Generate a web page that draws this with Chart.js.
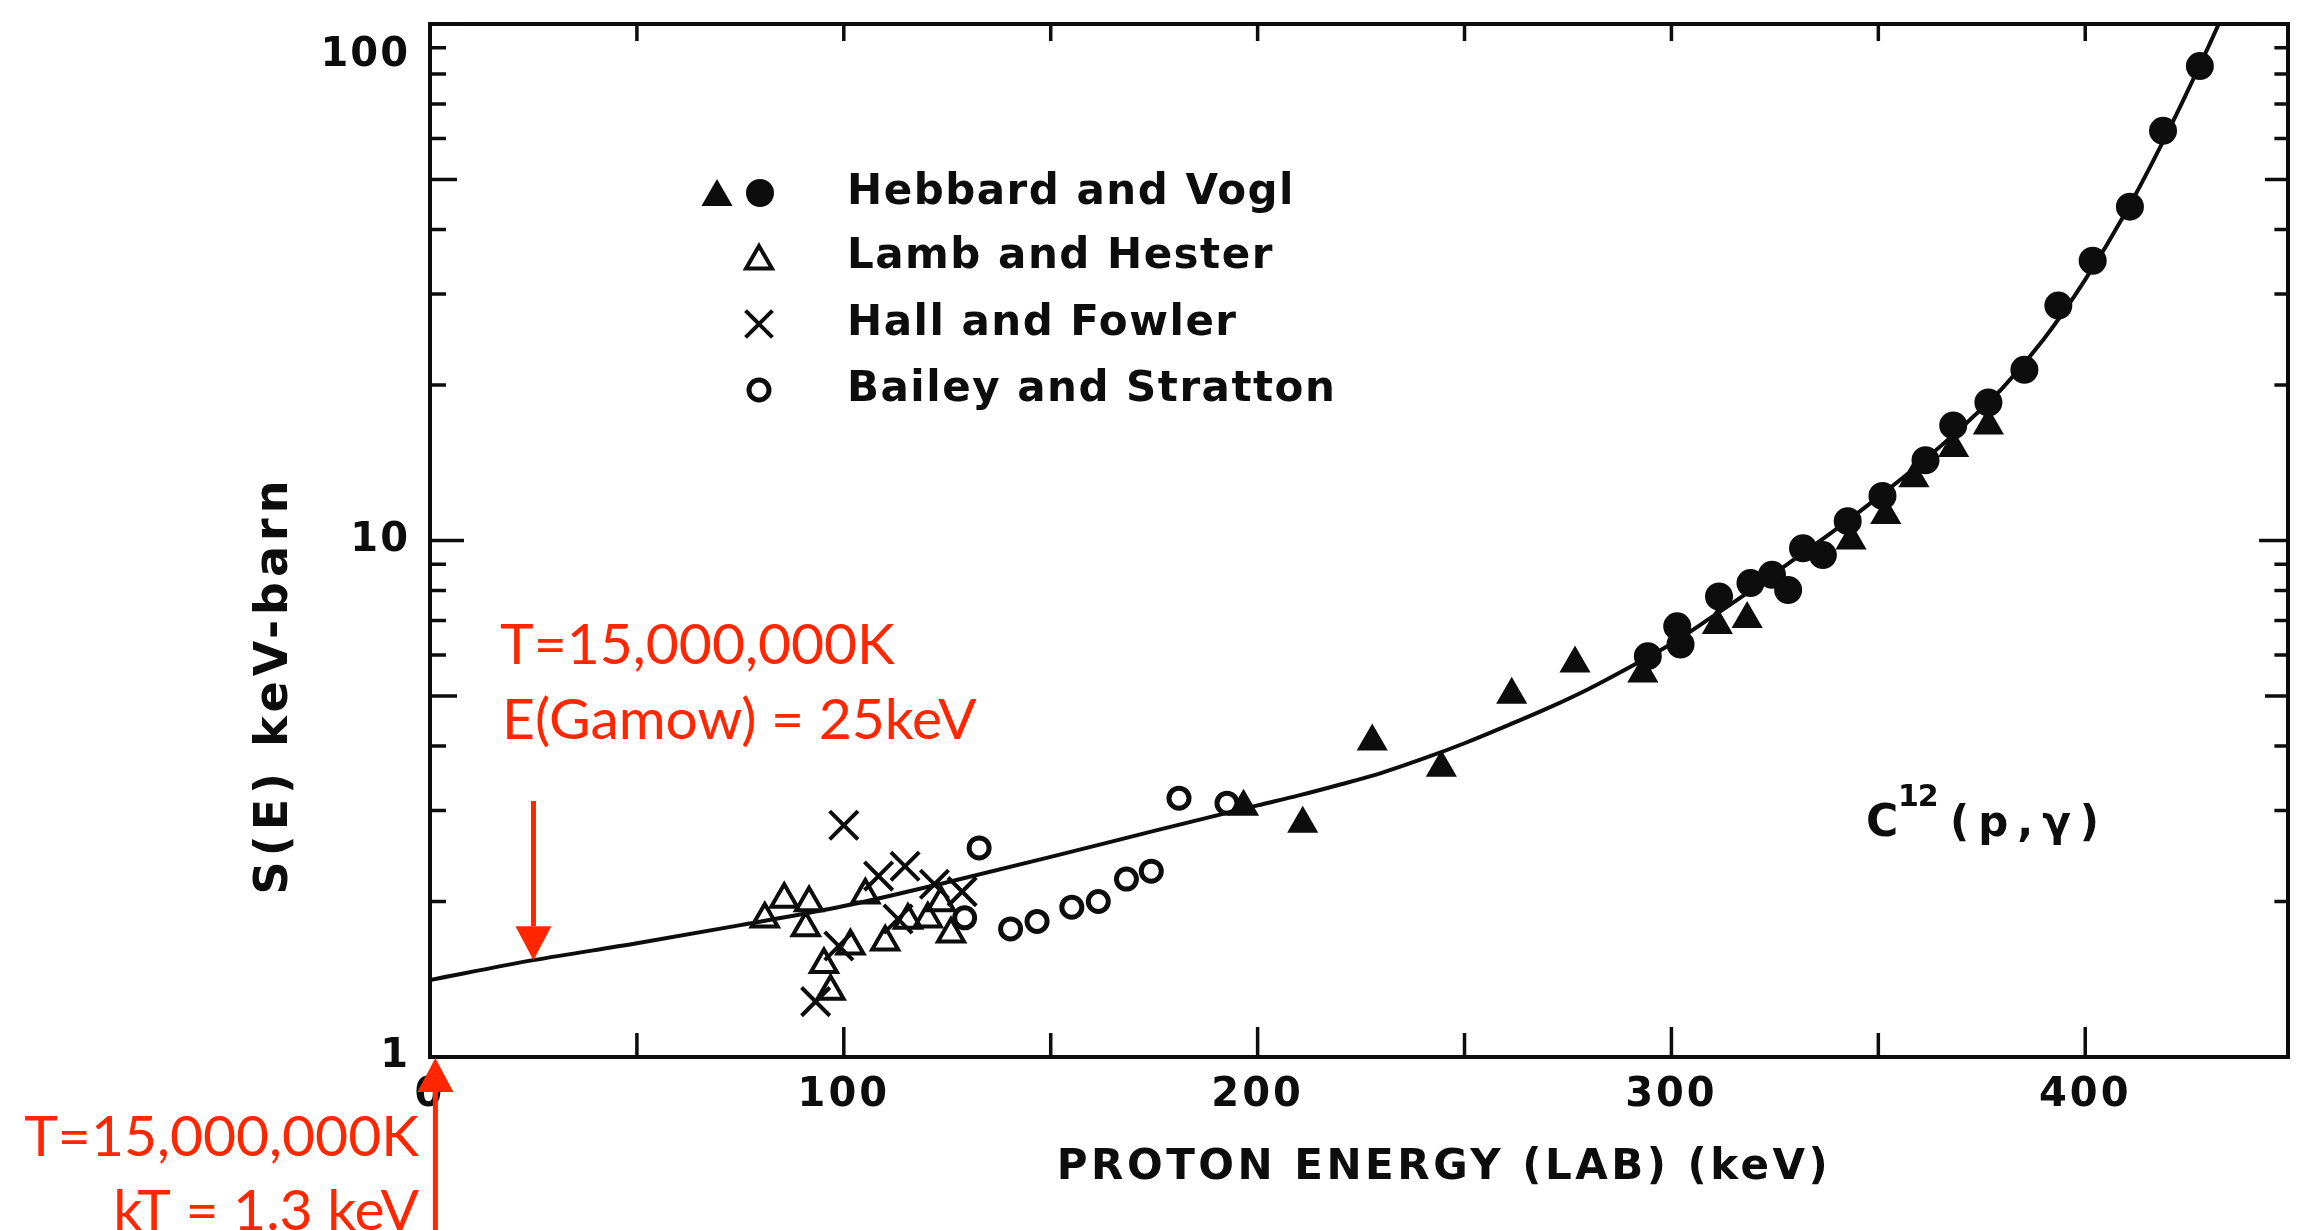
<!DOCTYPE html>
<html>
<head>
<meta charset="utf-8">
<title>S(E) for C12(p,γ)</title>
<script src="https://cdn.jsdelivr.net/npm/chart.js@4/dist/chart.umd.min.js"></script>
<style>
    html, body { margin: 0; padding: 0; background: #ffffff; }
    canvas { display: block; }
</style>
</head>
<body>
<canvas id="sChart" width="2312" height="1230"></canvas>
<script>

// fitted S-factor curve: proton energy (keV, lab) -> S(E) (keV-barn)
const curveEnergy = [0, 25, 50, 75, 100, 125, 150, 175, 200, 210, 220, 230, 240, 250, 260, 270, 280, 290, 300, 310, 320, 330, 340, 350, 360, 370, 380, 390, 400, 410, 420, 430, 435]
const curveS = [1.41, 1.54, 1.66, 1.80, 1.96, 2.18, 2.44, 2.74, 3.07, 3.21, 3.37, 3.55, 3.78, 4.05, 4.37, 4.73, 5.16, 5.69, 6.31, 7.13, 8.09, 9.23, 10.54, 12.13, 14.06, 16.52, 19.72, 24.55, 32.0, 43.5, 61.9, 91.2, 112]

// Hebbard and Vogl (filled triangles, filled circles)
const hvTriEnergy = [196.6, 210.9, 227.7, 244.4, 261.4, 276.7, 293.1, 311.1, 318.3, 343.4, 351.8, 358.6, 368.2, 376.6]
const hvTriS = [3.05, 2.83, 4.08, 3.63, 5.03, 5.78, 5.53, 6.86, 7.05, 10.0, 11.2, 13.2, 15.1, 16.7]
const hvDotEnergy = [294.3, 301.4, 302.2, 311.5, 319.1, 324.3, 328.2, 331.8, 336.6, 342.6, 351.0, 361.4, 368.1, 376.6, 385.3, 393.5, 401.8, 410.8, 418.8, 427.7]
const hvDotS = [5.97, 6.82, 6.29, 7.79, 8.27, 8.58, 8.02, 9.66, 9.37, 10.9, 12.2, 14.3, 16.7, 18.5, 21.4, 28.5, 34.8, 44.3, 62.1, 82.9]

// Lamb and Hester
const lhEnergy = [80.9, 85.6, 91.6, 90.8, 95.2, 96.8, 101.6, 105.2, 110.0, 115.5, 120.3, 123.5, 125.9]
const lhS = [1.85, 2.02, 1.99, 1.78, 1.51, 1.34, 1.64, 2.06, 1.67, 1.84, 1.85, 1.99, 1.73]

// Hall and Fowler
const hfEnergy = [93.2, 98.8, 100.0, 108.4, 113.1, 114.8, 121.9, 128.6]
const hfS = [1.28, 1.64, 2.81, 2.24, 1.85, 2.34, 2.16, 2.09]

// Bailey and Stratton
const bsEnergy = [129.2, 132.7, 140.3, 146.7, 155.1, 161.5, 168.3, 174.3, 181.0, 192.6]
const bsS = [1.86, 2.54, 1.77, 1.83, 1.95, 2.00, 2.21, 2.29, 3.17, 3.10]

const sources = ["Hebbard and Vogl", "Lamb and Hester", "Hall and Fowler", "Bailey and Stratton"]

const energyTicks = [0, 100, 200, 300, 400]
const sTicks = [1, 10, 100]

// annotation energies (keV)
const gamowEnergy = 25
const kTEnergy = 1.3

const ink = "#0d0d0d"
const red = "#ff2600"
const letters = "DejaVu Sans"
const redFont = "57px Lato"

const pts = (xs, ys) => xs.map((x, i) => ({ x: x, y: ys[i] }))

function write(ctx, str, x, y, font, align, spacing, baseline){

    ctx.save()
    ctx.font = font
    ctx.letterSpacing = spacing || "0px"
    ctx.textAlign = align || "left"
    ctx.textBaseline = baseline || "middle"
    ctx.fillText(str, x, y)
    ctx.restore()
}

// same shapes as the dataset points, for the key
function mark(ctx, style, cx, cy, r, filled, lw){

    ctx.save()
    ctx.strokeStyle = ink
    ctx.fillStyle = ink
    ctx.lineWidth = lw
    ctx.beginPath()

    if(style === "circle"){
        ctx.arc(cx, cy, r, 0, Math.PI * 2)
    }else if(style === "triangle"){
        const h = r * Math.sqrt(3) / 2
        ctx.moveTo(cx, cy - r)
        ctx.lineTo(cx + h, cy + r / 2)
        ctx.lineTo(cx - h, cy + r / 2)
        ctx.closePath()
    }else{
        const d = r * Math.SQRT1_2
        ctx.moveTo(cx - d, cy - d)
        ctx.lineTo(cx + d, cy + d)
        ctx.moveTo(cx + d, cy - d)
        ctx.lineTo(cx - d, cy + d)
    }

    if(filled) ctx.fill()
    ctx.stroke()
    ctx.restore()
}

function arrow(ctx, x0, y0, x1, y1){

    const head = 34
    const half = 18
    const ang = Math.atan2(y1 - y0, x1 - x0)
    const bx = x1 - Math.cos(ang) * head
    const by = y1 - Math.sin(ang) * head

    ctx.save()
    ctx.strokeStyle = red
    ctx.fillStyle = red
    ctx.lineWidth = 5

    ctx.beginPath()
    ctx.moveTo(x0, y0)
    ctx.lineTo(bx, by)
    ctx.stroke()

    ctx.beginPath()
    ctx.moveTo(x1, y1)
    ctx.lineTo(bx + Math.sin(ang) * half, by - Math.cos(ang) * half)
    ctx.lineTo(bx - Math.sin(ang) * half, by + Math.cos(ang) * half)
    ctx.closePath()
    ctx.fill()
    ctx.restore()
}

// box, inward ticks, labels and key
const frame = {

    id: "frame",

    beforeDatasetsDraw(chart){

        const { ctx, chartArea: a, scales: { x, y } } = chart

        ctx.save()
        ctx.strokeStyle = ink
        ctx.lineWidth = 4
        ctx.strokeRect(a.left, a.top, a.right - a.left, a.bottom - a.top)

        ctx.lineWidth = 3.5
        ctx.beginPath()

        for(let e = 50; e < x.max; e += 50){
            const px = x.getPixelForValue(e)
            ctx.moveTo(px, a.bottom)
            ctx.lineTo(px, a.bottom - (e % 100 === 0 ? 30 : 24))
            ctx.moveTo(px, a.top)
            ctx.lineTo(px, a.top + 17)
        }

        for(let d = 1; d < 100; d *= 10){
            for(let m = 2; m <= 10; m++){
                const v = d * m
                const py = y.getPixelForValue(v)
                const len = m === 10 ? 34 : (m === 5 ? 27 : 16)
                ctx.moveTo(a.left, py)
                ctx.lineTo(a.left + len, py)
                ctx.moveTo(a.right, py)
                ctx.lineTo(a.right - len * 0.85, py)
            }
        }

        ctx.stroke()
        ctx.restore()

        ctx.fillStyle = ink
        const numFont = "bold 40px " + letters

        sTicks.forEach(v => {
            let py = y.getPixelForValue(v)
            if(py < a.top + 20) py += 32
            write(ctx, String(v), a.left - 20, py, numFont, "right", "2px")
        })

        energyTicks.forEach(v => {
            write(ctx, String(v), x.getPixelForValue(v), a.bottom + 39, numFont, "center", "3px")
        })

        write(ctx, "PROTON ENERGY (LAB) (keV)", 1444, a.bottom + 111, "bold 42px " + letters, "center", "3.5px")

        ctx.save()
        ctx.translate(275, 685)
        ctx.rotate(-Math.PI / 2)
        write(ctx, "S(E) keV-barn", 0, 0, "bold 46px " + letters, "center", "5px")
        ctx.restore()

        // reaction label
        write(ctx, "C", 1866, 825, "bold 44px " + letters, "left")
        write(ctx, "12", 1898, 798, "bold 30px " + letters, "left", "-1px")
        write(ctx, "(p,γ)", 1950, 825, "bold 42px " + letters, "left", "9px")

        // key
        const rows = [193, 257, 324, 390]
        mark(ctx, "triangle", 717, rows[0] + 4, 16, true, 2)
        mark(ctx, "circle", 760, rows[0], 13, true, 2)
        mark(ctx, "triangle", 759, rows[1] + 4, 15, false, 4)
        mark(ctx, "cross", 759, rows[2], 19, false, 4)
        mark(ctx, "circle", 759, rows[3], 10, false, 5)

        sources.forEach((s, i) => {
            write(ctx, s, 847, rows[i], "bold 42px " + letters, "left", "1.5px")
        })
    },

    afterDraw(chart){

        const { ctx, chartArea: a, scales: { x, y } } = chart

        ctx.fillStyle = red
        write(ctx, "T=15,000,000K", 500, 664, redFont, "left", "0px", "alphabetic")
        write(ctx, "E(Gamow) = 25keV", 502, 739, redFont, "left", "0px", "alphabetic")
        write(ctx, "T=15,000,000K", 419, 1156, redFont, "right", "0px", "alphabetic")
        write(ctx, "kT = 1.3 keV", 419, 1230, redFont, "right", "0px", "alphabetic")

        const gx = x.getPixelForValue(gamowEnergy)
        const gS = curveS[curveEnergy.indexOf(gamowEnergy)]
        arrow(ctx, gx, 801, gx, y.getPixelForValue(gS))

        const kx = x.getPixelForValue(kTEnergy)
        arrow(ctx, kx, 1240, kx, a.bottom + 1)
    }
}

const ctx = document
    .getElementById("sChart")
    .getContext("2d")

const chart = new Chart(ctx, {

    type: "scatter",

    data: {
        datasets: [
            {
                label: "fit",
                data: pts(curveEnergy, curveS),
                showLine: true,
                pointRadius: 0,
                borderColor: ink,
                borderWidth: 4,
                cubicInterpolationMode: "monotone"
            },
            {
                label: sources[0],
                data: pts(hvTriEnergy, hvTriS),
                pointStyle: "triangle",
                pointRadius: 16,
                pointBorderWidth: 2,
                pointBackgroundColor: ink,
                pointBorderColor: ink
            },
            {
                label: sources[0],
                data: pts(hvDotEnergy, hvDotS),
                pointStyle: "circle",
                pointRadius: 13,
                pointBorderWidth: 2,
                pointBackgroundColor: ink,
                pointBorderColor: ink
            },
            {
                label: sources[1],
                data: pts(lhEnergy, lhS),
                pointStyle: "triangle",
                pointRadius: 15,
                pointBorderWidth: 4,
                pointBackgroundColor: "rgba(0,0,0,0)",
                pointBorderColor: ink
            },
            {
                label: sources[2],
                data: pts(hfEnergy, hfS),
                pointStyle: "crossRot",
                pointRadius: 20,
                pointBorderWidth: 4,
                pointBorderColor: ink
            },
            {
                label: sources[3],
                data: pts(bsEnergy, bsS),
                pointStyle: "circle",
                pointRadius: 10,
                pointBorderWidth: 5,
                pointBackgroundColor: "rgba(0,0,0,0)",
                pointBorderColor: ink
            }
        ]
    },

    options: {

        responsive: false,

        animation: false,

        devicePixelRatio: 1,

        events: [],

        layout: {
            padding: { left: 430, right: 5, top: 18, bottom: 173 }
        },

        plugins: {
            legend: { display: false },
            tooltip: { enabled: false }
        },

        scales: {
            x: {
                type: "linear",
                min: 0,
                max: 449,
                display: false
            },
            y: {
                type: "logarithmic",
                min: 1,
                max: 100,
                display: false
            }
        }
    },

    plugins: [frame]
})

</script>
</body>
</html>
